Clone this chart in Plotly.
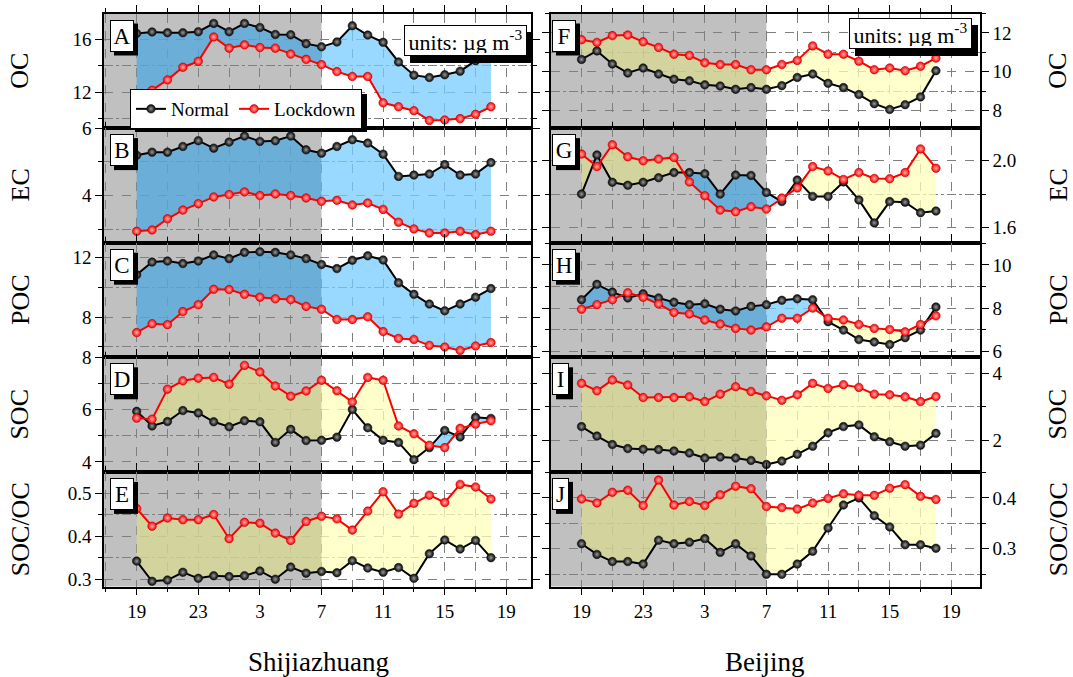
import plotly.graph_objects as go

# ---------------- data ----------------
hours = [19, 20, 21, 22, 23, 0, 1, 2, 3, 4, 5, 6, 7, 8, 9, 10, 11, 12, 13, 14, 15, 16, 17, 18]
tick_hours = [19, 23, 3, 7, 11, 15, 19]

sjz_oc_normal = [16.47, 16.58, 16.52, 16.52, 16.6, 17.23, 16.6, 17.23, 16.92, 16.39, 16.37, 15.69,
                 15.45, 15.82, 17.05, 16.34, 15.79, 14.3, 13.3, 13.12, 13.33, 13.6, 14.4, 15.4]
sjz_oc_lockdown = [11.4, 12.15, 12.94, 13.9, 14.35, 16.2, 15.35, 15.6, 15.4, 15.35, 14.9, 14.5,
                   14.1, 13.57, 13.2, 13.2, 11.2, 10.9, 10.6, 9.86, 9.9, 10.0, 10.33, 10.9]
sjz_ec_normal = [5.2, 5.29, 5.29, 5.46, 5.63, 5.41, 5.59, 5.77, 5.61, 5.63, 5.77, 5.36,
                 5.26, 5.46, 5.66, 5.56, 5.23, 4.57, 4.61, 4.64, 4.92, 4.61, 4.64, 4.98]
sjz_ec_lockdown = [2.94, 2.98, 3.31, 3.57, 3.76, 3.96, 4.03, 4.11, 4.0, 4.05, 4.0, 3.93,
                   3.83, 3.86, 3.72, 3.78, 3.59, 3.21, 3.01, 2.89, 2.89, 2.94, 2.84, 2.94]
sjz_poc_normal = [10.84, 11.7, 11.77, 11.6, 11.77, 12.18, 11.93, 12.35, 12.39, 12.35, 12.18, 11.93,
                  11.54, 11.26, 11.82, 12.12, 11.84, 10.31, 9.53, 8.88, 8.42, 8.88, 9.34, 9.92]
sjz_poc_lockdown = [6.96, 7.56, 7.49, 8.37, 8.83, 9.87, 9.85, 9.53, 9.34, 9.23, 9.18, 8.72,
                    8.53, 7.84, 7.84, 8.02, 7.03, 6.57, 6.5, 6.1, 5.99, 5.76, 6.06, 6.29]
sjz_soc_normal = [5.94, 5.38, 5.55, 5.97, 5.88, 5.54, 5.35, 5.58, 5.54, 4.75, 5.25, 4.82,
                  4.83, 4.95, 6.01, 5.31, 4.83, 4.75, 4.09, 4.55, 5.21, 4.96, 5.71, 5.67]
sjz_soc_lockdown = [5.68, 5.64, 6.79, 7.11, 7.21, 7.24, 6.98, 7.7, 7.45, 6.91, 6.52, 6.72,
                    7.13, 6.73, 6.3, 7.24, 7.13, 5.38, 5.08, 4.64, 4.55, 5.29, 5.45, 5.58]
sjz_ratio_normal = [0.342, 0.295, 0.298, 0.316, 0.302, 0.308, 0.306, 0.308, 0.319, 0.300, 0.328, 0.314,
                    0.318, 0.315, 0.343, 0.326, 0.316, 0.327, 0.302, 0.359, 0.391, 0.370, 0.390, 0.350]
sjz_ratio_lockdown = [0.464, 0.423, 0.442, 0.438, 0.438, 0.450, 0.394, 0.432, 0.430, 0.407, 0.390, 0.434,
                      0.446, 0.440, 0.414, 0.458, 0.503, 0.451, 0.476, 0.495, 0.478, 0.520, 0.514, 0.486]

bj_oc_normal = [10.63, 11.07, 10.4, 9.93, 10.19, 9.88, 9.61, 9.53, 9.32, 9.26, 9.09, 9.18,
                9.09, 9.28, 9.7, 9.88, 9.4, 9.18, 8.82, 8.35, 8.05, 8.3, 8.7, 10.05]
bj_oc_lockdown = [11.65, 11.51, 11.86, 11.89, 11.54, 11.25, 10.9, 10.84, 10.46, 10.37, 10.37, 10.1,
                  10.1, 10.37, 10.58, 11.33, 10.9, 10.9, 10.54, 10.1, 10.19, 10.05, 10.28, 10.7]
bj_ec_normal = [1.80, 2.035, 1.871, 1.853, 1.871, 1.898, 1.929, 1.929, 1.922, 1.80, 1.914, 1.912,
                1.81, 1.755, 1.884, 1.786, 1.786, 1.873, 1.765, 1.627, 1.755, 1.751, 1.688, 1.698]
bj_ec_lockdown = [2.04, 1.965, 2.096, 2.024, 2.0, 2.01, 2.02, 1.873, 1.79, 1.704, 1.694, 1.724,
                  1.71, 1.776, 1.837, 1.965, 1.939, 1.888, 1.929, 1.894, 1.892, 1.929, 2.071, 1.955]
bj_poc_normal = [8.39, 9.1, 8.74, 8.47, 8.66, 8.47, 8.27, 8.16, 8.2, 7.95, 7.87, 8.08,
                 8.16, 8.36, 8.43, 8.39, 7.37, 6.98, 6.54, 6.43, 6.31, 6.63, 6.98, 8.05]
bj_poc_lockdown = [7.95, 8.16, 8.39, 8.71, 8.5, 8.19, 7.8, 7.73, 7.45, 7.26, 7.06, 6.98,
                   7.13, 7.53, 7.53, 8.0, 7.53, 7.45, 7.24, 7.06, 7.01, 6.9, 7.24, 7.64]
bj_soc_normal = [2.42, 2.14, 1.89, 1.77, 1.75, 1.74, 1.70, 1.64, 1.49, 1.52, 1.49, 1.42,
                 1.30, 1.40, 1.60, 1.84, 2.24, 2.42, 2.47, 2.12, 1.97, 1.84, 1.87, 2.22]
bj_soc_lockdown = [3.70, 3.48, 3.80, 3.65, 3.28, 3.28, 3.28, 3.30, 3.16, 3.38, 3.60, 3.46,
                   3.33, 3.20, 3.36, 3.70, 3.55, 3.66, 3.58, 3.38, 3.36, 3.30, 3.16, 3.31]
bj_ratio_normal = [0.310, 0.289, 0.275, 0.275, 0.270, 0.317, 0.310, 0.313, 0.320, 0.293, 0.310, 0.286,
                   0.250, 0.250, 0.270, 0.295, 0.341, 0.386, 0.400, 0.365, 0.343, 0.308, 0.308, 0.301]
bj_ratio_lockdown = [0.398, 0.390, 0.411, 0.415, 0.385, 0.435, 0.386, 0.393, 0.385, 0.406, 0.423, 0.418,
                     0.383, 0.381, 0.378, 0.390, 0.399, 0.408, 0.405, 0.405, 0.419, 0.426, 0.403, 0.397]

panel_letters = ["A", "B", "C", "D", "E", "F", "G", "H", "I", "J"]
panel_titles = ["OC", "EC", "POC", "SOC", "SOC/OC"]
city_names = ["Shijiazhuang", "Beijing"]
units_text = "units: µg m<sup>-3</sup>"
legend_names = ["Normal", "Lockdown"]

# ---------------- layout constants ----------------
W, H = 1073, 677
FONT = "Liberation Serif"
NIGHT_END = 31  # 7:00 next day on continuous hour axis


def cont_hour(h):
    return h if h >= 19 else h + 24


xs = [cont_hour(h) for h in hours]
tickvals = [19 + 4 * i for i in range(len(tick_hours))]
minor_vals = [17 + 4 * i for i in range(len(tick_hours))]

panel_tops = [13.5, 128.1, 242.7, 357.3, 471.9]
panel_h = 114.6
col_px = [(104, 531), (551, 980)]
col_xrange = [(16.88, 44.6), (17.02, 44.86)]

panels = [
    # normal, lockdown, yrange, dtick, minor dtick, tickformat
    (sjz_oc_normal, sjz_oc_lockdown, [9.28, 17.98], 4, 2, "d"),
    (sjz_ec_normal, sjz_ec_lockdown, [2.6, 6.005], 2, 1, "d"),
    (sjz_poc_normal, sjz_poc_lockdown, [5.3, 13.0], 4, 2, "d"),
    (sjz_soc_normal, sjz_soc_lockdown, [3.62, 8.01], 2, 1, "d"),
    (sjz_ratio_normal, sjz_ratio_lockdown, [0.283, 0.549], 0.1, 0.05, ".1f"),
    (bj_oc_normal, bj_oc_lockdown, [7.09, 13.0], 2, 1, "d"),
    (bj_ec_normal, bj_ec_lockdown, [1.508, 2.196], 0.4, 0.2, ".1f"),
    (bj_poc_normal, bj_poc_lockdown, [5.72, 11.03], 2, 1, "d"),
    (bj_soc_normal, bj_soc_lockdown, [1.08, 4.47], 2, 1, "d"),
    (bj_ratio_normal, bj_ratio_lockdown, [0.226, 0.451], 0.1, 0.05, ".1f"),
]

BLUE_NIGHT = "rgba(83,169,223,0.78)"
BLUE_DAY = "rgba(119,204,255,0.75)"
YEL_NIGHT = "rgba(216,216,149,0.78)"
YEL_DAY = "rgba(255,255,187,0.75)"
GRID = "#7f7f7f"


def refine(x, n, l):
    rx, rn, rl = [x[0]], [n[0]], [l[0]]
    for i in range(len(x) - 1):
        d0 = n[i] - l[i]
        d1 = n[i + 1] - l[i + 1]
        if d0 * d1 < 0:
            t = d0 / (d0 - d1)
            xc = x[i] + t * (x[i + 1] - x[i])
            yc = n[i] + t * (n[i + 1] - n[i])
            rx.append(xc); rn.append(yc); rl.append(yc)
        rx.append(x[i + 1]); rn.append(n[i + 1]); rl.append(l[i + 1])
    return rx, rn, rl


def paper_rect(x0, y0, x1, y1):
    """Shadow rectangle in pixel units -> paper coordinates."""
    return dict(type="rect", xref="paper", yref="paper",
                x0=x0 / W, x1=x1 / W, y0=1 - y1 / H, y1=1 - y0 / H,
                fillcolor="black", line=dict(width=0), layer="above")


fig = go.Figure()
split = xs.index(NIGHT_END)

annotations = []
shapes = []
layout = {}

for k, (normal, lock, yr, dt, mdt, fmt) in enumerate(panels):
    col = k // 5
    row = k % 5
    ax = k + 1
    xa = "x" if ax == 1 else f"x{ax}"
    ya = "y" if ax == 1 else f"y{ax}"

    for seg, (bcol, ycol) in ((slice(0, split + 1), (BLUE_NIGHT, YEL_NIGHT)),
                               (slice(split, len(xs)), (BLUE_DAY, YEL_DAY))):
        rx, rn, rl = refine(xs[seg], normal[seg], lock[seg])
        top = [max(a, b) for a, b in zip(rn, rl)]
        for base, fc in ((rl, bcol), (rn, ycol)):
            fig.add_trace(go.Scatter(x=rx, y=base, mode="lines", line=dict(width=0),
                                     xaxis=xa, yaxis=ya, showlegend=False, hoverinfo="skip"))
            fig.add_trace(go.Scatter(x=rx, y=top, mode="lines", line=dict(width=0),
                                     fill="tonexty", fillcolor=fc,
                                     xaxis=xa, yaxis=ya, showlegend=False, hoverinfo="skip"))

    for vals, color, grad, name in ((normal, "black", "#9a9a9a", legend_names[0]),
                                    (lock, "#ff0000", "#ffb0b0", legend_names[1])):
        fig.add_trace(go.Scatter(
            x=xs, y=vals, mode="lines+markers", name=name,
            line=dict(color=color, width=2),
            marker=dict(size=8.5, color=color, gradient=dict(type="radial", color=grad),
                        line=dict(width=0.6, color="#202020" if color == "black" else "#c00000")),
            xaxis=xa, yaxis=ya, showlegend=(k == 0), hoverinfo="skip"))

    x0p, x1p = col_px[col]
    top_px = panel_tops[row]
    bot_px = top_px + panel_h
    xkey = "xaxis" if ax == 1 else f"xaxis{ax}"
    ykey = "yaxis" if ax == 1 else f"yaxis{ax}"
    layout[xkey] = dict(
        domain=[x0p / W, x1p / W], range=list(col_xrange[col]), anchor=ya, automargin=False,
        tickmode="array", tickvals=tickvals, ticktext=[str(h) for h in tick_hours],
        showticklabels=(row == 4), ticks="outside", ticklen=7, tickwidth=1.3, tickcolor="black",
        mirror="allticks", showline=True, linecolor="black", linewidth=1.5,
        showgrid=True, gridcolor=GRID, griddash="dash", gridwidth=0.8, zeroline=False,
        tickfont=dict(family=FONT, size=19, color="black"),
        minor=dict(tickmode="array", tickvals=minor_vals, ticks="outside", ticklen=4,
                   tickcolor="black", showgrid=True, gridcolor=GRID, griddash="dash", gridwidth=0.8),
    )
    layout[ykey] = dict(
        domain=[1 - bot_px / H, 1 - top_px / H], range=yr, anchor=xa, automargin=False,
        side="left" if col == 0 else "right",
        tick0=0, dtick=dt, tickformat=fmt, ticks="outside", ticklen=7, tickwidth=1.3,
        tickcolor="black", mirror="allticks", showline=True, linecolor="black", linewidth=1.5,
        showgrid=True, gridcolor=GRID, griddash="dash", gridwidth=0.8, zeroline=False,
        tickfont=dict(family=FONT, size=19, color="black"),
        minor=dict(tick0=0, dtick=mdt, ticks="outside", ticklen=4, tickcolor="black",
                   showgrid=True, gridcolor=GRID, griddash="dashdot", gridwidth=0.8),
    )

    shapes.append(dict(type="rect", xref=xa, yref=f"{ya} domain",
                       x0=col_xrange[col][0], x1=NIGHT_END, y0=0, y1=1,
                       fillcolor="#c0c0c0", line=dict(width=0), layer="below"))

    # panel letter box with drop shadow (shadow = rectangle behind it)
    letter = panel_letters[k]
    bw = 13 if letter in ("I", "J") else 20
    bh = 28
    lpx = 110 if col == 0 else 552
    tpx = top_px + 6
    shapes.append(paper_rect(lpx + 4, tpx + 4, lpx + bw + 4 + 4, tpx + bh + 4 + 4))
    annotations.append(dict(
        xref="paper", yref="paper", x=lpx / W, y=1 - tpx / H, xanchor="left", yanchor="top",
        text=letter, showarrow=False, width=bw, height=bh, align="center", valign="middle",
        font=dict(family=FONT, size=23, color="black"),
        bgcolor="white", bordercolor="black", borderwidth=1, borderpad=1))

    tx = 20 / W if col == 0 else 1058 / W
    annotations.append(dict(
        xref="paper", yref="paper", x=tx, y=1 - (top_px + panel_h / 2) / H,
        text=panel_titles[row], showarrow=False, textangle=-90,
        font=dict(family=FONT, size=26, color="black"), xanchor="center", yanchor="middle"))

# units boxes with drop shadows
ubw, ubh = 117, 25
for ux, uy in ((404, 25), (849, 18)):
    shapes.append(paper_rect(ux + 6, uy + 7, ux + ubw + 6 + 6, uy + ubh + 6 + 7))
    annotations.append(dict(
        xref="paper", yref="paper", x=ux / W, y=1 - uy / H, xanchor="left", yanchor="top",
        text=units_text, showarrow=False, width=ubw, height=ubh, align="center", valign="middle",
        font=dict(family=FONT, size=22, color="black"),
        bgcolor="white", bordercolor="black", borderwidth=1, borderpad=2))

for cx, name in zip((318, 765), city_names):
    annotations.append(dict(
        xref="paper", yref="paper", x=cx / W, y=1 - 662 / H, text=name, showarrow=False,
        font=dict(family=FONT, size=27, color="black"), xanchor="center", yanchor="middle"))

# legend drop shadow (legend box approx 130..362 x 89..127 px)
shapes.append(paper_rect(135, 94, 367, 132))

fig.update_layout(
    width=W, height=H, autosize=False,
    margin=dict(l=0, r=0, t=0, b=0, pad=0),
    paper_bgcolor="white", plot_bgcolor="white",
    font=dict(family=FONT, color="black"),
    showlegend=True,
    legend=dict(orientation="h", x=130 / W, y=1 - 89 / H, xanchor="left", yanchor="top",
                bgcolor="white", bordercolor="black", borderwidth=1, traceorder="normal",
                font=dict(family=FONT, size=19, color="black"), itemwidth=30,
                tracegroupgap=0),
    annotations=annotations, shapes=shapes,
    **layout,
)

fig.write_html("out.html", config={"displayModeBar": False},
               post_script="document.body.style.margin='0';document.body.style.overflow='hidden';")
